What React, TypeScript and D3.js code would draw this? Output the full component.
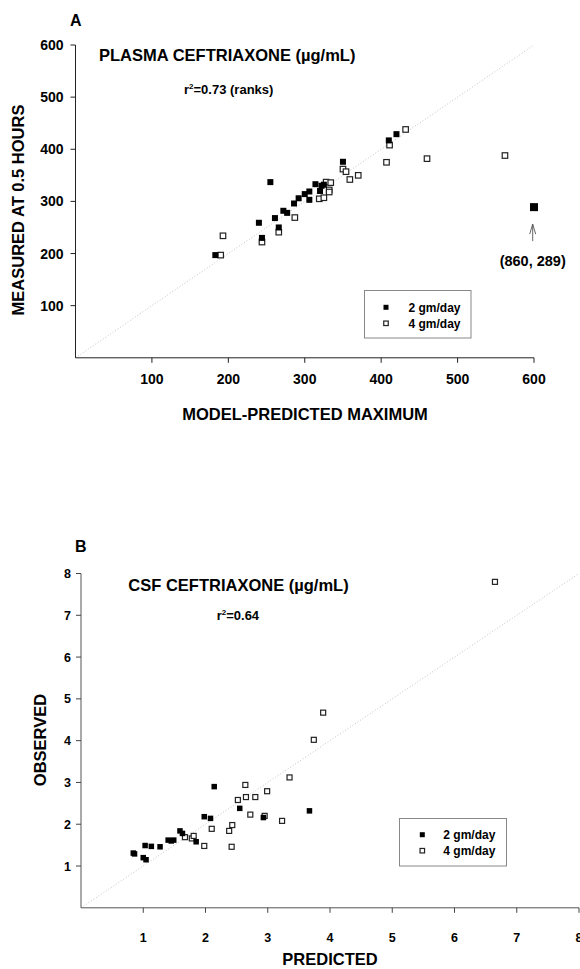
import React from "react";
import * as d3 from "d3";

// Panel A: plasma ceftriaxone (model-predicted maximum vs measured at 0.5 h)
const PLASMA_2_PRED = [183, 240, 244, 255, 261, 266, 272, 277, 286, 292, 300, 306, 306, 314, 320, 322, 325, 350, 410, 420, 860];
const PLASMA_2_MEAS = [197, 259, 230, 337, 268, 250, 282, 278, 296, 306, 314, 319, 303, 333, 320, 330, 332, 376, 417, 429, 289];
const PLASMA_4_PRED = [190, 193, 244, 266, 287, 319, 325, 328, 334, 332, 332, 350, 354, 359, 370, 407, 411, 432, 460, 562];
const PLASMA_4_MEAS = [197, 234, 222, 241, 269, 305, 307, 337, 336, 322, 318, 362, 357, 342, 350, 375, 408, 438, 382, 388];

// Panel B: CSF ceftriaxone (predicted vs observed)
const CSF_2_PRED = [0.84, 0.86, 1.0, 1.045, 1.03, 1.13, 1.27, 1.4, 1.45, 1.49, 1.59, 1.63, 1.85, 1.98, 2.08, 2.14, 2.55, 2.93, 3.67];
const CSF_2_OBS = [1.31, 1.29, 1.2, 1.15, 1.49, 1.47, 1.46, 1.62, 1.6, 1.62, 1.84, 1.78, 1.58, 2.18, 2.14, 2.9, 2.38, 2.16, 2.32];
const CSF_4_PRED = [1.67, 1.78, 1.81, 1.98, 2.1, 2.38, 2.43, 2.42, 2.52, 2.64, 2.65, 2.8, 2.99, 2.72, 2.95, 3.23, 3.35, 3.74, 3.89, 6.65];
const CSF_4_OBS = [1.69, 1.66, 1.72, 1.48, 1.89, 1.84, 1.98, 1.46, 2.58, 2.94, 2.65, 2.65, 2.79, 2.23, 2.2, 2.08, 3.12, 4.02, 4.67, 7.8];

const TICKS_A = [100, 200, 300, 400, 500, 600];
const TICKS_B = [1, 2, 3, 4, 5, 6, 7, 8];
const LEGEND_LABELS = ["2 gm/day", "4 gm/day"];
const OUTLIER_LABEL = "(860, 289)";

const FONT = "'Liberation Sans', Arial, Helvetica, sans-serif";

export default function App() {
  const xA = d3.scaleLinear().domain([0, 600]).range([75.5, 534]).clamp(true);
  const yA = d3.scaleLinear().domain([0, 600]).range([357.8, 45]);
  const xB = d3.scaleLinear().domain([0, 8]).range([81, 579]);
  const yB = d3.scaleLinear().domain([0, 8]).range([907.8, 573.5]);

  const sq = (cx: number, cy: number, s: number, filled: boolean, key: string) => (
    <rect
      key={key}
      x={cx - s / 2}
      y={cy - s / 2}
      width={s}
      height={s}
      fill={filled ? "#000" : "#fff"}
      stroke={filled ? "none" : "#222"}
      strokeWidth={filled ? 0 : 1.2}
    />
  );

  const lineA = d3.line<number>().x((d) => xA(d)).y((d) => yA(d));
  const lineB = d3.line<number>().x((d) => xB(d)).y((d) => yB(d));

  const arrowX = xA(600) - 1.3;
  const outlierY = yA(PLASMA_2_MEAS[PLASMA_2_MEAS.length - 1]);

  return (
    <svg
      width={580}
      height={969}
      style={{ position: "absolute", left: 0, top: 0, background: "#fff" }}
      fontFamily={FONT}
      fontWeight="bold"
    >
      <rect x={0} y={0} width={580} height={969} fill="#fff" />

      {/* ===== Panel A ===== */}
      <text x={70} y={26} fontSize={16}>A</text>
      <path d={lineA([0, 600]) || ""} stroke="#c4c4c4" strokeWidth={1} strokeDasharray="1,2" fill="none" />
      {/* axes */}
      <line x1={xA(0)} x2={xA(600)} y1={yA(0)} y2={yA(0)} stroke="#222" strokeWidth={1} />
      <line x1={xA(0)} x2={xA(0)} y1={yA(0)} y2={yA(600)} stroke="#222" strokeWidth={1} />
      {TICKS_A.map((t) => (
        <g key={"xa" + t}>
          <line x1={xA(t)} x2={xA(t)} y1={yA(0)} y2={yA(0) + 5} stroke="#222" />
          <text x={xA(t)} y={yA(0) + 26} fontSize={14} textAnchor="middle">{t}</text>
        </g>
      ))}
      {TICKS_A.map((t) => (
        <g key={"ya" + t}>
          <line x1={xA(0) - 5} x2={xA(0)} y1={yA(t)} y2={yA(t)} stroke="#222" />
          <text x={63.5} y={yA(t) + 5} fontSize={14} textAnchor="end">{t}</text>
        </g>
      ))}
      <text x={305} y={419.5} fontSize={16.5} textAnchor="middle">MODEL-PREDICTED MAXIMUM</text>
      <text transform="translate(24,210) rotate(-90)" fontSize={16.5} textAnchor="middle">MEASURED AT 0.5 HOURS</text>
      <text x={99} y={61} fontSize={16.5}>PLASMA CEFTRIAXONE (µg/mL)</text>
      <text x={184} y={93.5} fontSize={13}>
        r<tspan fontSize={8} dy={-5}>2</tspan><tspan dy={5}>=0.73 (ranks)</tspan>
      </text>
      {/* points */}
      {PLASMA_4_PRED.map((p, i) => sq(xA(p), yA(PLASMA_4_MEAS[i]), 5.5, false, "a4" + i))}
      {PLASMA_2_PRED.map((p, i) =>
        sq(xA(p), yA(PLASMA_2_MEAS[i]), p > 600 ? 8 : 6, true, "a2" + i)
      )}
      {/* outlier annotation */}
      <g stroke="#555" strokeWidth={0.9} fill="none">
        <line x1={arrowX} x2={arrowX} y1={outlierY + 34} y2={outlierY + 17} />
        <polyline points={`${arrowX - 3},${outlierY + 27} ${arrowX},${outlierY + 17} ${arrowX + 3},${outlierY + 27}`} />
      </g>
      <text x={arrowX} y={outlierY + 59} fontSize={14.5} textAnchor="middle">{OUTLIER_LABEL}</text>
      {/* legend A */}
      <rect x={364.5} y={290.5} width={106.5} height={47.5} fill="#fff" stroke="#888" strokeWidth={1} />
      {sq(386, 307.3, 5, true, "la2")}
      {sq(386, 323.3, 4.5, false, "la4")}
      <text x={408.5} y={311.5} fontSize={12}>{LEGEND_LABELS[0]}</text>
      <text x={408.5} y={327.5} fontSize={12}>{LEGEND_LABELS[1]}</text>

      {/* ===== Panel B ===== */}
      <text x={75} y={552} fontSize={16}>B</text>
      <path d={lineB([0, 8]) || ""} stroke="#c4c4c4" strokeWidth={1} strokeDasharray="1,2" fill="none" />
      <line x1={xB(0)} x2={xB(8)} y1={yB(0)} y2={yB(0)} stroke="#555" strokeWidth={1} />
      <line x1={xB(0)} x2={xB(0)} y1={yB(0)} y2={yB(8)} stroke="#555" strokeWidth={1} />
      {TICKS_B.map((t) => (
        <g key={"xb" + t}>
          <line x1={xB(t)} x2={xB(t)} y1={yB(0)} y2={yB(0) + 5} stroke="#444" />
          <text x={xB(t)} y={yB(0) + 34} fontSize={12.5} textAnchor="middle">{t}</text>
        </g>
      ))}
      {TICKS_B.map((t) => (
        <g key={"yb" + t}>
          <line x1={xB(0) - 5} x2={xB(0)} y1={yB(t)} y2={yB(t)} stroke="#444" />
          <text x={71} y={yB(t) + 4.5} fontSize={12.5} textAnchor="end">{t}</text>
        </g>
      ))}
      <text x={330} y={965} fontSize={16.5} textAnchor="middle">PREDICTED</text>
      <text transform="translate(46,740) rotate(-90)" fontSize={16.5} textAnchor="middle">OBSERVED</text>
      <text x={128.3} y={591} fontSize={16.5}>CSF CEFTRIAXONE (µg/mL)</text>
      <text x={216.7} y={619.5} fontSize={13}>
        r<tspan fontSize={8} dy={-5}>2</tspan><tspan dy={5}>=0.64</tspan>
      </text>
      {CSF_4_PRED.map((p, i) => sq(xB(p), yB(CSF_4_OBS[i]), 5, false, "b4" + i))}
      {CSF_2_PRED.map((p, i) => sq(xB(p), yB(CSF_2_OBS[i]), 5.5, true, "b2" + i))}
      {/* legend B */}
      <rect x={399.5} y={818.5} width={107} height={47.5} fill="#fff" stroke="#888" strokeWidth={1} />
      {sq(422.3, 834.7, 5, true, "lb2")}
      {sq(422.3, 850.7, 4.5, false, "lb4")}
      <text x={443.3} y={839} fontSize={12}>{LEGEND_LABELS[0]}</text>
      <text x={443.3} y={855} fontSize={12}>{LEGEND_LABELS[1]}</text>
    </svg>
  );
}
